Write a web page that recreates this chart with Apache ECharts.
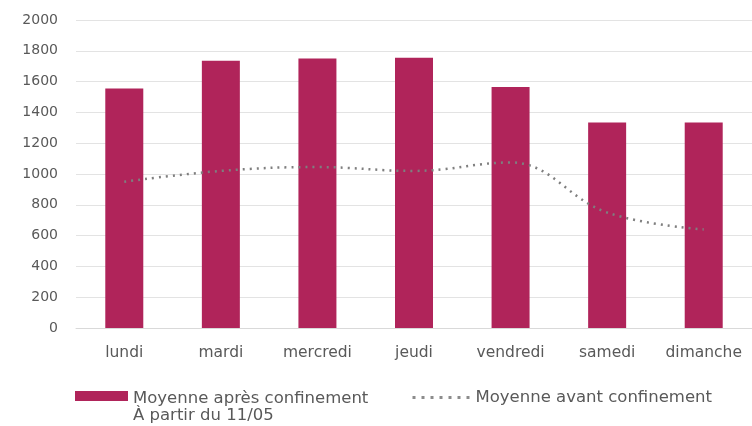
<!DOCTYPE html>
<html><head><meta charset="utf-8">
<script src="https://cdn.jsdelivr.net/npm/echarts@6/dist/echarts.min.js"></script>
<style>html,body{margin:0;padding:0;background:#fff}#c{width:752px;height:426px}</style>
</head><body><div id="c"></div>
<script>
var categories = ['lundi','mardi','mercredi','jeudi','vendredi','samedi','dimanche'];
var apres = [1555, 1735, 1750, 1755, 1565, 1335, 1335];
var avant = [950, 1020, 1045, 1020, 1075, 750, 640];
var yTicks = {min: 0, max: 2000, interval: 200};
var nameApres = 'Moyenne après confinement\nÀ partir du 11/05';
var nameAvant = 'Moyenne avant confinement';

var chart = echarts.init(document.getElementById('c'));
var txt = '#595959';
var font = 'DejaVu Sans';
chart.setOption({
  animation: false,
  grid: {left: 76, right: -2, top: 20, bottom: 98},
  legend: [{
    data: [{name: nameApres, icon: 'path://M0,0L0.01,0Z M0,1H53V11H0Z M0,34L0.01,34Z'}],
    left: 70, top: 385,
    itemWidth: 53, itemHeight: 34, itemGap: 4,
    textStyle: {color: txt, fontFamily: font, fontSize: 16.5, lineHeight: 17}
  },{
    data: [nameAvant],
    left: 406, top: 384,
    itemWidth: 58, itemHeight: 14, itemGap: 10,
    itemStyle: {opacity: 0},
    lineStyle: {color: '#8c8c8c', width: 3, type: [3, 6]},
    textStyle: {color: txt, fontFamily: font, fontSize: 16.5}
  }],
  xAxis: {
    type: 'category', data: categories,
    axisLine: {lineStyle: {color: '#d9d9d9'}},
    axisTick: {show: false},
    axisLabel: {color: txt, fontFamily: font, fontSize: 15.5, margin: 17, interval: 0}
  },
  yAxis: {
    type: 'value', min: yTicks.min, max: yTicks.max, interval: yTicks.interval,
    axisLine: {show: false}, axisTick: {show: false},
    splitLine: {lineStyle: {color: '#e3e3e3', width: 1}},
    axisLabel: {color: txt, fontFamily: font, fontSize: 14, margin: 18, formatter: function(v){return String(v);}}
  },
  series: [{
    name: nameApres, type: 'bar', data: apres,
    barWidth: 38,
    itemStyle: {color: '#B0245A'}
  },{
    name: nameAvant, type: 'line', data: avant,
    smooth: 0.4, symbol: 'none',
    lineStyle: {color: '#7f7f7f', width: 2.5, type: [2, 5]},
    itemStyle: {color: '#7f7f7f'}
  }]
});
</script></body></html>
